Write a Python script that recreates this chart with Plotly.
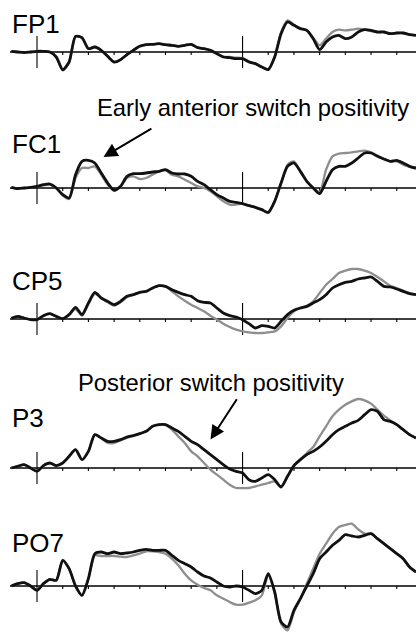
import plotly.graph_objects as go

# ---------------- data (time in ms, amplitude in µV) ----------------
times = [-100, -75, -50, -25, 0, 25, 50, 75,
         100, 125, 150, 175, 200, 225, 250, 275,
         300, 325, 350, 375, 400, 425, 450, 475,
         500, 525, 550, 575, 600, 625, 650, 675,
         700, 725, 750, 775, 800, 825, 850, 875,
         900, 925, 950, 975, 1000, 1025, 1050, 1075,
         1100, 1125, 1150, 1175, 1200, 1225, 1250, 1275,
         1300, 1325, 1350, 1375, 1400, 1425, 1450, 1475]

channels = ["FP1", "FC1", "CP5", "P3", "PO7"]

fp1_black = [0.2, 0, -0.2, 0, 0.2, 0.2, 0, -1.5,
             -5.3, -3.0, 4.7, 4.3, 1.0, 1.5, 0.5, -1.3,
             -3.0, -2.3, -0.8, 0.5, 1.7, 2.2, 2.3, 2.5,
             2.2, 2.0, 1.7, 2.0, 2.3, 1.3, 1.0, 0.5,
             -0.5, -1.5, -1.7, -2.0, -2.0, -3.0, -3.5, -4.5,
             -5.3, -1.5, 5.5, 9.0, 8.0, 7.0, 6.5, 4.0,
             0.7, 3.0, 4.5, 5.0, 4.0, 4.5, 6.0, 6.7,
             6.5, 6.0, 6.0, 5.5, 5.7, 5.7, 5.2, 5.0]
fp1_gray = [0.2, 0, -0.2, 0, 0.2, 0.2, 0, -1.5,
            -5.5, -3.0, 4.7, 4.3, 1.0, 1.5, 0.5, -1.3,
            -3.0, -2.3, -0.8, 0.6, 1.8, 2.2, 2.3, 2.5,
            2.2, 2.0, 1.7, 2.0, 2.3, 1.3, 1.0, 0.5,
            -0.5, -1.4, -1.5, -1.7, -1.8, -2.8, -3.5, -4.5,
            -5.3, -1.5, 6.0, 9.5, 8.2, 7.0, 6.5, 4.3,
            2.0, 4.0, 6.0, 6.7, 6.5, 6.7, 7.0, 6.7,
            6.3, 6.0, 6.0, 5.5, 5.7, 5.7, 5.2, 5.0]

fc1_black = [0.2, -0.2, 0, 0.2, 0.5, 1.0, 1.2, 0,
             -2.0, -3.0, 4.0, 8.0, 8.3, 7.5, 4.5, 1.5,
             -0.7, 0.5, 3.5, 4.3, 4.3, 4.5, 4.8, 5.0,
             5.5, 4.5, 4.2, 4.2, 3.5, 2.0, 1.0, -0.5,
             -2.0, -3.0, -4.0, -4.3, -4.7, -5.3, -5.8, -6.5,
             -7.3, -4.0, 1.5, 6.5, 7.5, 5.0, 2.0, 0.0,
             -1.7, 2.0, 5.5, 6.5, 6.5, 7.5, 9.0, 10.5,
             10.5, 9.5, 8.7, 8.0, 8.3, 7.5, 6.5, 6.0]
fc1_gray = [0.2, -0.2, 0, 0.2, 0.5, 0.8, 1.0, 0,
            -2.3, -3.3, 3.0, 6.0, 6.0, 6.5, 4.0, 1.0,
            -0.7, 0.3, 3.0, 3.5, 2.7, 3.0, 4.0, 5.0,
            5.3, 4.0, 3.5, 2.5, 1.5, 0.5, 0, -1.0,
            -2.5, -4.0, -5.0, -5.0, -4.7, -5.3, -5.8, -6.5,
            -7.5, -4.0, 1.5, 7.0, 8.0, 5.0, 2.0, 0.0,
            -1.2, 5.5, 9.5, 10.3, 10.5, 10.7, 11.0, 11.2,
            10.7, 9.7, 8.7, 8.0, 8.0, 7.0, 6.3, 5.7]

cp5_black = [0.2, 0.8, 0.3, -0.2, -0.2, 1.0, 1.6, 0.8,
             0.1, 1.3, 3.5, 1.3, 4.8, 8.0, 6.3, 5.3,
             4.3, 5.3, 6.8, 7.3, 8.0, 8.3, 9.3, 10.0,
             9.8, 8.8, 8.0, 7.3, 6.8, 5.5, 5.0, 4.8,
             3.3, 1.8, 1.0, 0.6, -0.2, -1.4, -2.7, -2.0,
             -2.2, -2.7, -0.7, 1.3, 2.6, 3.3, 3.8, 4.8,
             5.8, 7.3, 9.3, 10.3, 11.0, 11.3, 12.0, 12.3,
             12.6, 11.3, 9.8, 9.6, 9.0, 8.3, 7.6, 7.3]
cp5_gray = [0.2, 0.8, 0.3, -0.2, -0.2, 1.0, 1.6, 0.8,
            0.1, 1.3, 3.0, 1.0, 4.5, 7.5, 6.3, 5.0,
            4.0, 5.0, 6.5, 7.3, 8.0, 8.3, 9.3, 10.0,
            9.8, 8.3, 6.8, 5.5, 4.3, 3.3, 2.3, 1.0,
            -0.2, -1.4, -2.4, -3.2, -3.7, -4.0, -4.2, -4.2,
            -4.0, -3.7, -2.2, 0.3, 2.3, 3.3, 4.0, 5.3,
            7.8, 10.3, 12.0, 13.8, 14.5, 15.0, 15.0, 14.5,
            13.8, 12.6, 11.3, 10.0, 9.3, 8.5, 7.8, 7.3]

p3_black = [0, 0.5, 1.0, 0, -1.0, 0.7, 1.5, 0.7,
            1.5, 3.5, 5.5, 2.5, 5.0, 10.0, 9.0, 8.0,
            8.0, 8.5, 9.3, 9.7, 10.3, 11.0, 12.5, 13.0,
            13.0, 12.0, 11.0, 9.5, 8.0, 7.0, 5.5, 4.0,
            2.5, 1.0, -0.3, -1.0, -1.5, -3.5, -4.0, -3.0,
            -2.0, -3.5, -5.7, -2.5, 0.7, 2.5, 4.0, 5.0,
            6.3, 8.0, 10.0, 11.5, 12.5, 13.5, 14.3, 16.0,
            17.5, 17.0, 14.5, 14.0, 13.0, 11.5, 10.0, 9.0]
p3_gray = [0, 0.5, 1.0, 0, -1.0, 0.7, 1.5, 0.7,
           1.5, 3.5, 5.5, 2.5, 5.0, 10.0, 9.0, 7.5,
           7.5, 8.3, 9.0, 9.7, 10.3, 11.0, 12.5, 13.0,
           13.0, 11.5, 9.5, 7.5, 5.0, 3.5, 1.5, -0.5,
           -2.0, -3.5, -5.0, -6.0, -6.0, -6.0, -5.5, -5.0,
           -4.5, -4.0, -5.5, -2.5, 0.7, 2.5, 4.5, 6.3,
           9.5, 12.5, 15.5, 17.5, 19.0, 20.0, 20.7, 20.3,
           19.3, 17.5, 15.7, 14.3, 13.0, 11.5, 10.0, 9.0]

po7_black = [0, 0.7, 1.0, 0, -1.3, 0.7, 2.0, 1.7,
             7.7, 5.2, 0, -2.8, 2.2, 9.7, 10.2, 9.7,
             10.2, 9.7, 9.9, 10.2, 10.7, 11.0, 10.7, 10.7,
             10.7, 9.2, 7.7, 6.7, 5.7, 4.2, 3.0, 2.4,
             1.2, 0, -0.3, 0, -0.3, -1.3, -2.3, -1.3,
             3.7, -1.8, -10.8, -12.3, -7.3, -3.8, 0, 3.7,
             8.2, 10.2, 12.2, 13.7, 15.4, 15.0, 14.7, 15.2,
             15.7, 14.2, 12.7, 11.2, 9.7, 8.2, 5.7, 4.2]
po7_gray = [0, 0.7, 1.0, 0, -1.3, 0.7, 2.0, 1.7,
            7.7, 5.2, 0, -2.8, 2.2, 9.2, 9.0, 9.0,
            9.0, 8.8, 8.7, 9.2, 9.7, 10.4, 10.4, 10.2,
            9.7, 8.2, 6.2, 3.7, 1.7, 0.4, -0.6, -1.3,
            -2.8, -3.8, -4.8, -5.6, -5.6, -5.0, -4.3, -2.8,
            3.2, -2.0, -11.3, -13.3, -7.8, -3.8, 0.7, 5.2,
            9.7, 12.7, 15.7, 17.7, 18.3, 18.7, 17.0, 15.7,
            15.7, 14.2, 12.7, 11.2, 9.7, 8.2, 5.7, 4.2]

black_series = [fp1_black, fc1_black, cp5_black, p3_black, po7_black]
gray_series = [fp1_gray, fc1_gray, cp5_gray, p3_gray, po7_gray]

tick_times = [100, 200, 300, 400, 500, 600, 700, 900, 1000, 1100, 1200, 1300, 1400]
marker_times = [0, 800]
annotation_texts = ["Early anterior switch positivity", "Posterior switch positivity"]

# ---------------- layout geometry ----------------
W, H = 416, 638
PX_PER_UV = 10.0 / 3.0
baseline_px = [52, 188, 319, 468, 586]
label_px = [(10, 24), (10, 143.5), (10, 281), (10, 417.5), (10, 543)]
X_RANGE = [-144, 1475]
AXIS_START = -105
MARK_HALF = 4.8
TICK_LEN = 0.9

GRAY = "#8e8e8e"
FONT = "Liberation Sans, Arial, Helvetica, sans-serif"

fig = go.Figure()
shapes = []
annotations = []
layout_axes = {}

for i, ch in enumerate(channels):
    yname = "y" if i == 0 else f"y{i + 1}"
    ykey = "yaxis" if i == 0 else f"yaxis{i + 1}"
    b = baseline_px[i]
    ax = dict(domain=[0, 1], range=[(b - H) / PX_PER_UV, b / PX_PER_UV],
              visible=False, fixedrange=True)
    if i > 0:
        ax["overlaying"] = "y"
    layout_axes[ykey] = ax

    fig.add_trace(go.Scatter(x=times, y=gray_series[i], yaxis=yname, xaxis="x",
                             mode="lines", hoverinfo="skip",
                             line=dict(color=GRAY, width=2.3, shape="spline", smoothing=0.7)))
    fig.add_trace(go.Scatter(x=times, y=black_series[i], yaxis=yname, xaxis="x",
                             mode="lines", hoverinfo="skip",
                             line=dict(color="#111111", width=2.8, shape="spline", smoothing=0.7)))

    # baseline
    shapes.append(dict(type="line", xref="x", yref=yname, x0=AXIS_START, x1=X_RANGE[1],
                       y0=0, y1=0, line=dict(color="black", width=1.6), layer="below"))
    # event markers
    for t in marker_times:
        shapes.append(dict(type="line", xref="x", yref=yname, x0=t, x1=t,
                           y0=-MARK_HALF, y1=MARK_HALF,
                           line=dict(color="black", width=1.1), layer="below"))
    # ticks
    for t in tick_times:
        shapes.append(dict(type="line", xref="x", yref=yname, x0=t, x1=t,
                           y0=0, y1=-TICK_LEN,
                           line=dict(color="black", width=1.1), layer="below"))

    lx, ly = label_px[i]
    annotations.append(dict(text=ch, xref="paper", yref="paper", x=lx / W, y=1 - ly / H,
                            xanchor="left", yanchor="middle", showarrow=False,
                            font=dict(family=FONT, size=26, color="black")))

# text annotations
annotations.append(dict(text=annotation_texts[0], xref="paper", yref="paper",
                        x=253 / W, y=1 - 107.4 / H, xanchor="center", yanchor="middle",
                        showarrow=False, font=dict(family=FONT, size=23.8, color="black")))
annotations.append(dict(text=annotation_texts[1], xref="paper", yref="paper",
                        x=211 / W, y=1 - 382.4 / H, xanchor="center", yanchor="middle",
                        showarrow=False, font=dict(family=FONT, size=23.8, color="black")))
# arrows
annotations.append(dict(text="", xref="paper", yref="paper", x=103.5 / W, y=1 - 157 / H,
                        ax=49.4, ay=-29.3, showarrow=True, arrowhead=2, arrowsize=1.4,
                        arrowwidth=2, arrowcolor="black", standoff=0))
annotations.append(dict(text="", xref="paper", yref="paper", x=210.5 / W, y=1 - 439.5 / H,
                        ax=27.3, ay=-41.7, showarrow=True, arrowhead=2, arrowsize=1.4,
                        arrowwidth=2, arrowcolor="black", standoff=0))

fig.update_layout(
    width=W, height=H,
    margin=dict(l=0, r=0, t=0, b=0, pad=0),
    paper_bgcolor="white", plot_bgcolor="white",
    showlegend=False,
    xaxis=dict(domain=[0, 1], range=X_RANGE, visible=False, fixedrange=True),
    shapes=shapes,
    annotations=annotations,
    **layout_axes,
)

fig.write_html("out.html", config={"displayModeBar": False})
